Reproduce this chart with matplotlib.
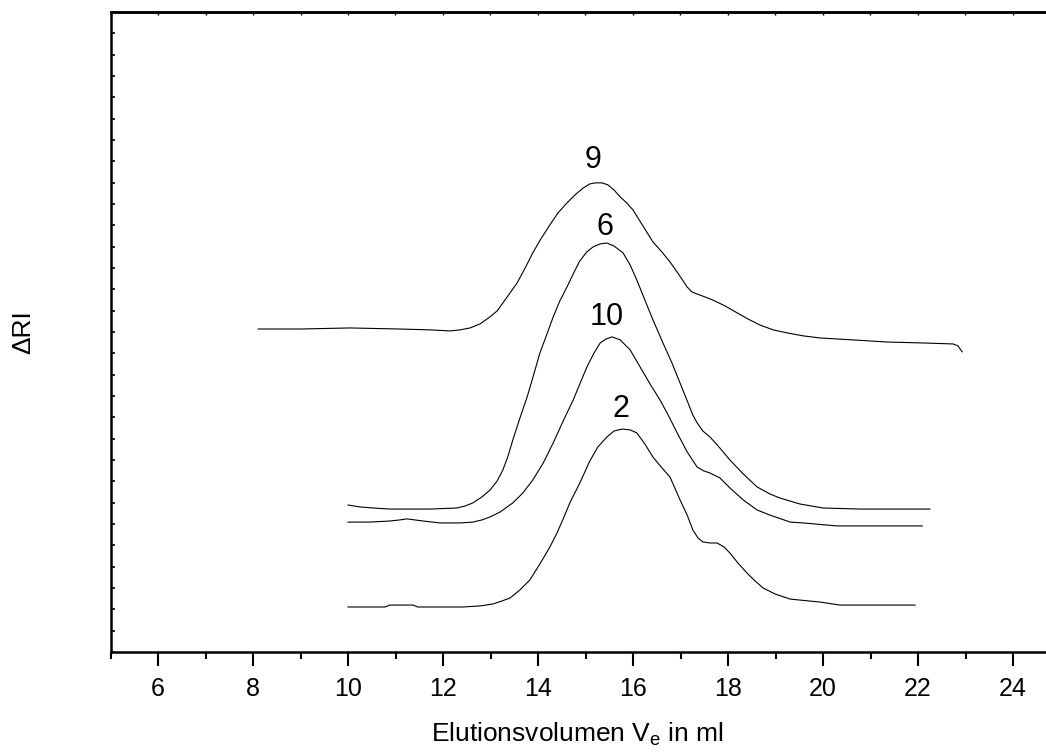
import matplotlib.pyplot as plt
from matplotlib.ticker import MultipleLocator

plt.rcParams['font.family'] = ['Liberation Sans', 'DejaVu Sans']
plt.rcParams['mathtext.fontset'] = 'custom'
plt.rcParams['mathtext.rm'] = 'Liberation Sans'
plt.rcParams['mathtext.it'] = 'Liberation Sans'

# Probe 9
ve_9 = [8.11, 8.99, 10.04, 11.09, 11.73, 12.15, 12.36, 12.57, 12.78, 12.99, 13.14, 13.26,
        13.41, 13.56, 13.73, 13.89, 14.06, 14.25, 14.42, 14.61, 14.78, 14.95, 15.09, 15.2,
        15.35, 15.47, 15.6, 15.73, 15.87, 16.0, 16.21, 16.42, 16.61, 16.78, 16.97, 17.14,
        17.24, 17.35, 17.52, 17.68, 17.94, 18.19, 18.42, 18.67, 18.95, 19.24, 19.58, 19.94,
        20.63, 21.35, 22.04, 22.74, 22.84, 22.93]
ri_9 = [15.14, 15.14, 15.19, 15.14, 15.10, 15.05, 15.10, 15.19, 15.38, 15.71, 15.99, 16.36,
        16.83, 17.30, 18.0, 18.71, 19.36, 20.02, 20.58, 21.05, 21.43, 21.75, 21.94, 21.99,
        21.99, 21.9, 21.66, 21.33, 21.05, 20.72, 19.97, 19.22, 18.75, 18.28, 17.68, 17.11,
        16.88, 16.78, 16.64, 16.5, 16.22, 15.90, 15.61, 15.33, 15.10, 14.96, 14.82, 14.72,
        14.63, 14.53, 14.49, 14.44, 14.35, 14.07]

# Probe 6
ve_6 = [10.0, 10.25, 10.53, 10.88, 11.24, 11.73, 12.29, 12.46, 12.63, 12.82, 12.99, 13.14,
        13.26, 13.37, 13.47, 13.62, 13.77, 13.89, 14.04, 14.19, 14.32, 14.46, 14.61, 14.74,
        14.88, 15.03, 15.16, 15.31, 15.45, 15.6, 15.79, 15.94, 16.08, 16.25, 16.42, 16.63,
        16.82, 16.99, 17.16, 17.26, 17.35, 17.47, 17.62, 17.83, 18.04, 18.32, 18.61, 18.88,
        19.09, 19.51, 20.0, 20.78, 22.25]
ri_6 = [6.89, 6.80, 6.75, 6.70, 6.70, 6.70, 6.75, 6.84, 6.99, 7.27, 7.59, 8.02,
        8.53, 9.19, 9.94, 10.97, 11.95, 12.85, 14.02, 14.91, 15.71, 16.46, 17.11, 17.72,
        18.33, 18.76, 18.99, 19.13, 19.17, 19.03, 18.71, 18.14, 17.44, 16.50, 15.57, 14.49,
        13.55, 12.61, 11.67, 11.11, 10.74, 10.36, 10.08, 9.56, 9.0, 8.35, 7.74, 7.41,
        7.22, 6.94, 6.75, 6.70, 6.70]

# Probe 10
ve_10 = [10.0, 10.46, 10.88, 11.09, 11.24, 11.41, 11.58, 11.94, 12.15, 12.36, 12.63, 12.82,
         12.99, 13.2, 13.47, 13.68, 13.89, 14.11, 14.32, 14.53, 14.74, 14.88, 15.03, 15.18,
         15.31, 15.43, 15.56, 15.73, 15.94, 16.15, 16.36, 16.57, 16.74, 16.93, 17.14, 17.35,
         17.49, 17.62, 17.83, 18.04, 18.32, 18.61, 18.88, 19.31, 19.58, 20.29, 22.09]
ri_10 = [6.09, 6.09, 6.14, 6.19, 6.24, 6.19, 6.14, 6.05, 6.05, 6.05, 6.09, 6.19,
         6.33, 6.56, 6.99, 7.45, 8.06, 8.86, 9.80, 10.83, 11.81, 12.56, 13.36, 14.02,
         14.49, 14.67, 14.77, 14.63, 14.16, 13.36, 12.56, 11.81, 11.11, 10.27, 9.38, 8.67,
         8.49, 8.39, 8.16, 7.69, 7.13, 6.66, 6.42, 6.09, 6.05, 5.91, 5.91]

# Probe 2
ve_2 = [10.0, 10.46, 10.78, 10.88, 11.37, 11.47, 11.94, 12.42, 12.78, 13.05, 13.24, 13.41,
        13.62, 13.83, 14.04, 14.25, 14.40, 14.53, 14.67, 14.88, 15.09, 15.26, 15.45, 15.6,
        15.77, 15.94, 16.08, 16.25, 16.42, 16.61, 16.78, 16.99, 17.14, 17.26, 17.37, 17.47,
        17.62, 17.77, 17.92, 18.04, 18.21, 18.40, 18.57, 18.74, 18.99, 19.31, 19.94, 20.36,
        20.99, 21.94]
ri_2 = [2.11, 2.11, 2.11, 2.20, 2.20, 2.11, 2.11, 2.11, 2.16, 2.25, 2.39, 2.53,
        2.91, 3.38, 4.13, 4.92, 5.58, 6.24, 6.99, 7.92, 8.95, 9.61, 10.08, 10.36,
        10.45, 10.41, 10.27, 9.75, 9.14, 8.63, 8.20, 7.13, 6.42, 5.72, 5.34, 5.16,
        5.11, 5.11, 4.92, 4.64, 4.17, 3.70, 3.33, 3.0, 2.72, 2.48, 2.34, 2.20,
        2.20, 2.20]

labels = ['9', '6', '10', '2']
label_ve = [15.16, 15.41, 15.45, 15.75]
label_ri = [23.05, 19.9, 15.7, 11.4]

fig = plt.figure(figsize=(10.46, 7.55), dpi=100)
ax = fig.add_axes([110.5 / 1046, 1 - 652 / 755, 950 / 1046, 640 / 755])

for xs, ys in [(ve_9, ri_9), (ve_6, ri_6), (ve_10, ri_10), (ve_2, ri_2)]:
    ax.plot(xs, ys, color='black', lw=0.8)

for t, x, y in zip(labels, label_ve, label_ri):
    ax.text(x, y, t, fontsize=22, ha='center', va='center')

ax.set_xlim(5, 25)
ax.set_ylim(0, 30)

ax.xaxis.set_major_locator(MultipleLocator(2))
ax.xaxis.set_minor_locator(MultipleLocator(1))
ax.yaxis.set_major_locator(MultipleLocator(1))
ax.set_yticklabels([])
for s in ax.spines.values():
    s.set_linewidth(1.8)

ax.tick_params(axis='x', which='major', direction='out', length=10, width=1.5,
               labelsize=18, pad=8, top=False)
ax.tick_params(axis='x', which='minor', direction='out', length=5, width=1.5, top=False)
ax.tick_params(axis='y', which='major', direction='in', length=3, width=1.2, left=True)

sec = ax.secondary_xaxis('top')
sec.xaxis.set_major_locator(MultipleLocator(1))
sec.tick_params(direction='in', length=2, width=1, labeltop=False)
sec.spines['top'].set_linewidth(1.8)

ax.set_xlabel('Elutionsvolumen V$_\\mathrm{e}$ in ml', fontsize=19)
ax.xaxis.set_label_coords(0.492, -0.108)
ax.set_ylabel('\u0394RI', fontsize=19)
ax.yaxis.set_label_coords(-0.079, 0.5)

fig.savefig('out.png', dpi=100)
